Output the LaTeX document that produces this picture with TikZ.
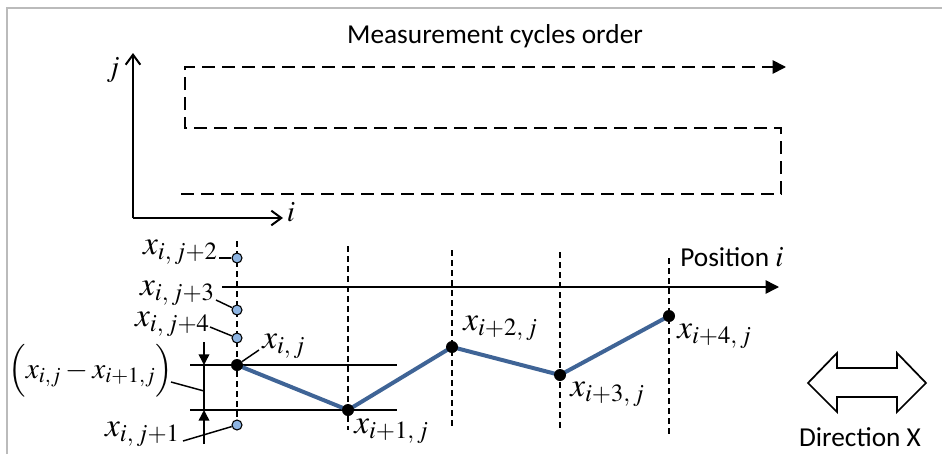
\documentclass[tikz,border=0pt]{standalone}
\usepackage{mathptmx}
\usepackage[no-math]{fontspec}
\setmainfont{Carlito}
\usetikzlibrary{arrows.meta}
\definecolor{lineblue}{HTML}{3F6496}
\definecolor{ptblue}{HTML}{8DB4E2}
\definecolor{framegray}{HTML}{BBBBBB}
\begin{document}
\begin{tikzpicture}[x=0.75pt,y=-0.75pt,
  lbl/.style={inner sep=0pt, font=\fontsize{25}{27}\selectfont},
  txt/.style={inner sep=0pt, font=\fontsize{20.5}{24}\selectfont},
  axis/.style={line width=1.5pt, -{Straight Barb[length=7.5pt,width=11pt,line width=1.5pt]}},
  cyc/.style={line width=1.3pt, dash pattern=on 10pt off 5pt, -{Triangle[length=10pt,width=10pt]}},
  vdash/.style={line width=1.3pt, dash pattern=on 4.5pt off 3pt},
  thin/.style={line width=1.1pt},
  blueline/.style={line width=3pt, lineblue},
  dot/.style={circle, fill=black, inner sep=0pt, minimum size=9pt},
  bdot/.style={circle, draw=black, fill=ptblue, line width=0.8pt, inner sep=0pt, minimum size=7.5pt},
  dimarrow/.style={thin, -{Triangle[length=8pt,width=8pt]}}]
\useasboundingbox (0,0) rectangle (942,454);
% frame
\draw[framegray, line width=1.2pt] (7,454) -- (7,8) -- (942,8);

% ---- top: axes and cycle order ----
\coordinate (o) at (133,218);
\coordinate (jt) at (133,53);
\coordinate (ir) at (283,218);
\draw[axis] (o) -- (jt);
\draw[axis] (o) -- (ir);
\node[lbl, font=\fontsize{22}{24}\selectfont] (jlab) at (113,70) {$j$};
\node[lbl, font=\fontsize{22}{24}\selectfont] (ilab) at (291,212) {$i$};
\node[txt] (title) at (495,36) {Measurement cycles order};

\coordinate (d0) at (181,194);
\coordinate (d1) at (781,194);
\coordinate (d2) at (781,128);
\coordinate (d3) at (185,128);
\coordinate (d4) at (185,67);
\coordinate (d5) at (786,67);
\draw[cyc] (d0) -- (d1) -- (d2) -- (d3) -- (d4) -- (d5);

% ---- bottom: position axis ----
\coordinate (pa0) at (222,287);
\coordinate (pa1) at (779,287);
\draw[thin, -{Triangle[length=10pt,width=10pt]}] (pa0) -- (pa1);
\node[txt, anchor=base west] (poslab) at (680,266) {Position \fontsize{22}{24}\selectfont$\mathit{i}$};

% vertical dashed lines
\coordinate (v0t) at (237,241); \coordinate (v0b) at (237,420);
\coordinate (v1t) at (348,246); \coordinate (v1b) at (348,430);
\coordinate (v2t) at (452,250); \coordinate (v2b) at (452,428);
\coordinate (v3t) at (560,252); \coordinate (v3b) at (560,431);
\coordinate (v4t) at (669,258); \coordinate (v4b) at (669,436);
\draw[vdash] (v0t) -- (v0b);
\draw[vdash] (v1t) -- (v1b);
\draw[vdash] (v2t) -- (v2b);
\draw[vdash] (v3t) -- (v3b);
\draw[vdash] (v4t) -- (v4b);

% horizontal reference lines
\coordinate (h0a) at (190,365); \coordinate (h0b) at (397,365);
\coordinate (h1a) at (190,410); \coordinate (h1b) at (397,410);
\draw[thin] (h0a) -- (h0b);
\draw[thin] (h1a) -- (h1b);

% measured points
\coordinate (c0) at (237,365);
\coordinate (c1) at (348,410);
\coordinate (c2) at (452,347);
\coordinate (c3) at (560,375);
\coordinate (c4) at (669,316);
\draw[blueline, line join=round] (c0) -- (c1) -- (c2) -- (c3) -- (c4);
\node[dot] (p0) at (c0) {};
\node[dot] (p1) at (c1) {};
\node[dot] (p2) at (c2) {};
\node[dot] (p3) at (c3) {};
\node[dot] (p4) at (c4) {};

% blue circles
\node[bdot] (q2) at (237,258) {};
\node[bdot] (q3) at (237,310) {};
\node[bdot] (q4) at (237,338) {};
\node[bdot] (q1) at (237,425) {};

% labels of points
\node[lbl, anchor=base west] (lp0) at (262,348) {$x_{i,\,j}$};
\node[lbl, anchor=base west] (lp1) at (354,433) {$x_{i+1,\,j}$};
\node[lbl, anchor=base west] (lp2) at (463,330) {$x_{i+2,\,j}$};
\node[lbl, anchor=base west] (lp3) at (570,396) {$x_{i+3,\,j}$};
\node[lbl, anchor=base west] (lp4) at (677,338) {$x_{i+4,\,j}$};

\node[lbl, anchor=base east] (lq2) at (218,254) {$x_{i,\,j+2}$};
\node[lbl, anchor=base east] (lq3) at (215,295) {$x_{i,\,j+3}$};
\node[lbl, anchor=base east] (lq4) at (210,326) {$x_{i,\,j+4}$};
\node[lbl, anchor=base east] (lq1) at (180,436) {$x_{i,\,j+1}$};
\node[lbl, anchor=west, font=\fontsize{22}{24}\selectfont] (ldiff) at (8,371) {$\Bigl(x_{i,j}-x_{i+1,j}\Bigr)$};

% leaders
\coordinate (a2) at (219,258);
\coordinate (a3) at (216,300);
\coordinate (a4) at (210,327);
\coordinate (a0) at (259,350);
\coordinate (a1) at (183,441);
\coordinate (ad) at (171,382);
\coordinate (bd) at (204,391);
\draw[thin] (a2) -- (q2);
\draw[thin] (a3) -- (q3);
\draw[thin] (a4) -- (q4);
\draw[thin] (p0) -- (a0);
\draw[thin] (a1) -- (q1);
\draw[thin] (ad) -- (bd);

% dimension
\coordinate (dt) at (204,342);
\coordinate (dm0) at (204,365);
\coordinate (dm1) at (204,410);
\coordinate (db) at (204,444);
\draw[dimarrow] (dt) -- (dm0);
\draw[thin] (dm0) -- (dm1);
\draw[dimarrow] (db) -- (dm1);

% direction arrow
\draw[line width=1.3pt, line join=miter] (808,383) -- (837,353) -- (837,368) -- (897,368) -- (897,353)
  -- (926,383) -- (897,412) -- (897,397) -- (837,397) -- (837,412) -- cycle;
\node[txt] (dirlab) at (860,437) {Direction X};
\end{tikzpicture}
\end{document}
